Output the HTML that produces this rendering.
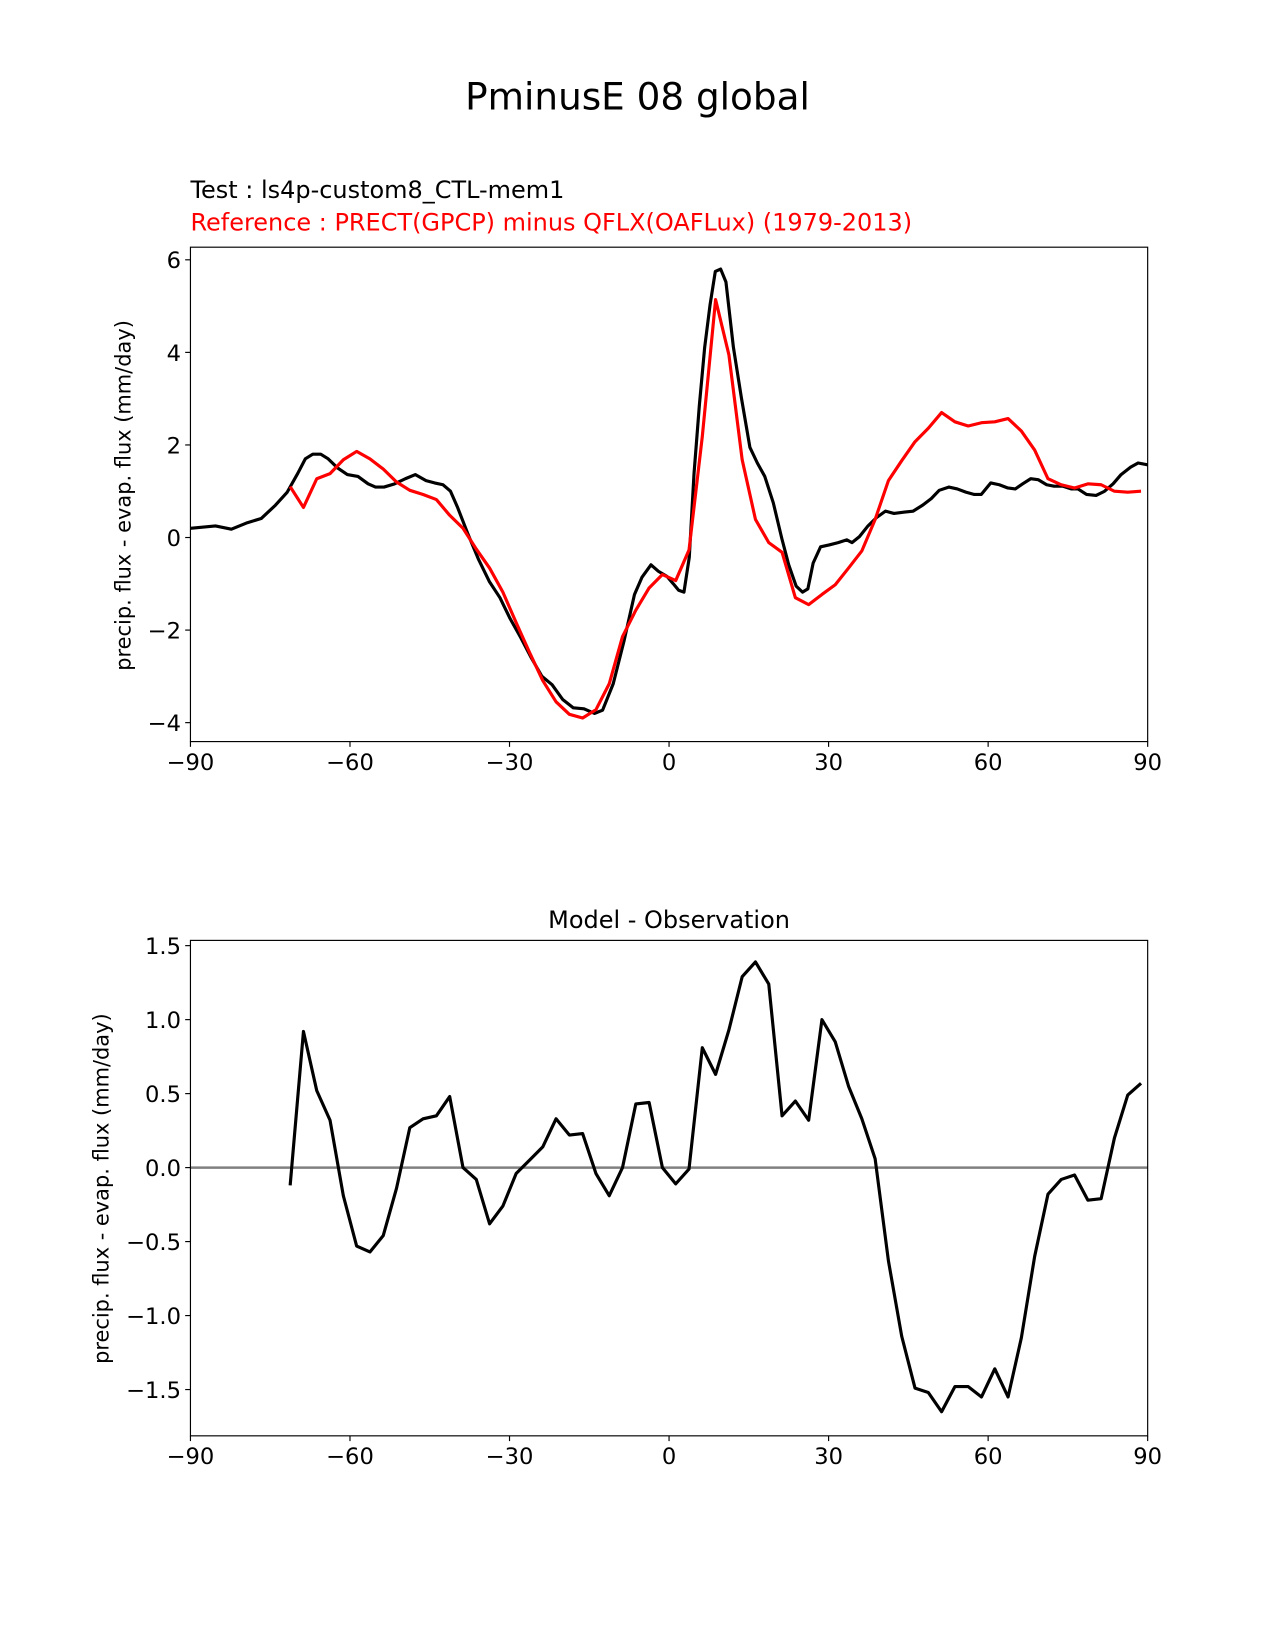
<!DOCTYPE html>
<html><head><meta charset="utf-8"><style>
html,body{margin:0;padding:0;background:#fff;}
svg{display:block;font-family:"DejaVu Sans","Liberation Sans",sans-serif;}
</style></head><body>
<svg id="fig" width="1275" height="1650" viewBox="0 0 1212 1568.6" xmlns="http://www.w3.org/2000/svg">
<rect width="1212" height="1568.6" fill="#fff"/>
<text x="606" y="104" font-size="35.5" text-anchor="middle">PminusE 08 global</text>
<text x="181" y="188" font-size="22.8">Test : ls4p-custom8_CTL-mem1</text>
<text x="181" y="219" font-size="22.8" fill="red">Reference : PRECT(GPCP) minus QFLX(OAFLux) (1979-2013)</text>
<text x="636" y="882" font-size="22.8" text-anchor="middle">Model - Observation</text>
<text transform="translate(124,471) rotate(-90)" font-size="19.9" text-anchor="middle">precip. flux - evap. flux (mm/day)</text>
<text transform="translate(103,1130) rotate(-90)" font-size="19.9" text-anchor="middle">precip. flux - evap. flux (mm/day)</text>
<g id="top"></g>
<g id="bot"></g>
</svg>
<script>
const testLat=[-90,-85.3,-82.3,-79.3,-76.7,-74,-71.8,-69.8,-68.4,-67,-65.5,-64.1,-62.3,-60.5,-58.5,-56.6,-55.2,-53.6,-51.6,-49.6,-47.7,-45.7,-44.1,-42.5,-41.1,-39.8,-37.8,-35.8,-33.8,-31.8,-29.9,-27.9,-25.9,-23.9,-22,-20,-18,-16,-14,-12.5,-10.5,-8.5,-6.5,-5.1,-3.4,-2,-0.4,0.8,1.8,2.8,3.8,4.7,5.7,6.7,7.7,8.7,9.7,10.7,12.1,13.6,15.2,16.6,18,19.6,21.2,22.5,23.9,25.1,26.1,27.1,28.5,30.1,31.8,33.4,34.4,35.8,37.4,39,40.7,42.3,44.3,45.9,47.7,49.3,50.8,52.6,54.2,55.8,57.4,58.7,60.5,62.1,63.7,65.1,66.5,68,69.4,71,72.4,74,75.6,76.9,78.5,80.3,81.9,83.5,85,86.8,88.2,90];
const testVal=[0.2,0.25,0.18,0.32,0.41,0.7,0.98,1.39,1.7,1.8,1.8,1.7,1.5,1.36,1.32,1.16,1.09,1.09,1.16,1.27,1.36,1.23,1.18,1.14,1.0,0.66,0.07,-0.48,-0.95,-1.3,-1.75,-2.16,-2.6,-3.0,-3.18,-3.5,-3.68,-3.7,-3.8,-3.73,-3.16,-2.25,-1.23,-0.86,-0.59,-0.73,-0.84,-1.0,-1.14,-1.18,-0.43,1.39,2.86,4.11,5.02,5.75,5.8,5.52,4.11,3.02,1.95,1.61,1.32,0.75,-0.02,-0.59,-1.05,-1.18,-1.11,-0.55,-0.2,-0.16,-0.11,-0.05,-0.11,0.02,0.25,0.43,0.57,0.52,0.55,0.57,0.7,0.84,1.02,1.09,1.05,0.98,0.93,0.93,1.18,1.14,1.07,1.05,1.16,1.27,1.25,1.14,1.11,1.11,1.05,1.05,0.93,0.91,1.0,1.16,1.36,1.52,1.61,1.57];
const refLat=[-71.25,-68.75,-66.25,-63.75,-61.25,-58.75,-56.25,-53.75,-51.25,-48.75,-46.25,-43.75,-41.25,-38.75,-36.25,-33.75,-31.25,-28.75,-26.25,-23.75,-21.25,-18.75,-16.25,-13.75,-11.25,-8.75,-6.25,-3.75,-1.25,1.25,3.75,6.25,8.75,11.25,13.75,16.25,18.75,21.25,23.75,26.25,28.75,31.25,33.75,36.25,38.75,41.25,43.75,46.25,48.75,51.25,53.75,56.25,58.75,61.25,63.75,66.25,68.75,71.25,73.75,76.25,78.75,81.25,83.75,86.25,88.75];
const refVal=[1.1,0.65,1.27,1.38,1.68,1.86,1.7,1.48,1.2,1.02,0.93,0.82,0.48,0.2,-0.25,-0.66,-1.18,-1.84,-2.48,-3.09,-3.55,-3.82,-3.9,-3.72,-3.16,-2.14,-1.57,-1.09,-0.8,-0.93,-0.27,2.18,5.14,3.95,1.68,0.39,-0.11,-0.32,-1.3,-1.45,-1.23,-1.02,-0.66,-0.29,0.39,1.23,1.66,2.07,2.36,2.7,2.5,2.41,2.48,2.5,2.57,2.3,1.89,1.27,1.14,1.07,1.16,1.14,1.0,0.98,1.0];
const diffVal=[-0.12,0.92,0.52,0.32,-0.19,-0.53,-0.57,-0.46,-0.14,0.27,0.33,0.35,0.48,0.0,-0.08,-0.38,-0.26,-0.04,0.05,0.14,0.33,0.22,0.23,-0.04,-0.19,0.0,0.43,0.44,0.0,-0.11,-0.01,0.81,0.63,0.93,1.29,1.39,1.24,0.35,0.45,0.32,1.0,0.85,0.55,0.33,0.06,-0.63,-1.14,-1.49,-1.52,-1.65,-1.48,-1.48,-1.55,-1.36,-1.55,-1.15,-0.6,-0.18,-0.08,-0.05,-0.22,-0.21,0.2,0.49,0.57];
const xTicks=[-90,-60,-30,0,30,60,90];
const topYTicks=[6,4,2,0,-2,-4];
const botYTicks=[1.5,1.0,0.5,0.0,-0.5,-1.0,-1.5];

const NS="http://www.w3.org/2000/svg";
function mk(tag,attrs,parent){const e=document.createElementNS(NS,tag);for(const k in attrs)e.setAttribute(k,attrs[k]);parent.appendChild(e);return e;}
const X0=181,X1=1091;
function sx(v){return X0+(v+90)/180*(X1-X0);}
function fmt(v,d){return (v<0?"\u2212":"")+Math.abs(v).toFixed(d);}

function axes(g,top,bottom,sy,yTicks,dec,prefix){
  for(const t of xTicks){
    const tk=mk('line',{x1:sx(t),x2:sx(t),y1:bottom,y2:bottom+5,stroke:'#000','stroke-width':1.1},g);
    
    
    const tl=mk('text',{x:sx(t),y:bottom+27,'font-size':21.5,'text-anchor':'middle'},g);
    tl.textContent=fmt(t,0);
    
    
  }
  for(const t of yTicks){
    const tk=mk('line',{x1:X0-5,x2:X0,y1:sy(t),y2:sy(t),stroke:'#000','stroke-width':1.1},g);
    
    
    const tl=mk('text',{x:X0-9,y:sy(t)+8,'font-size':21.5,'text-anchor':'end'},g);
    tl.textContent=fmt(t,dec);
    
    
  }
}
function line(g,lat,val,sy,color,w,name){
  const p=mk('polyline',{points:lat.map((x,i)=>sx(x).toFixed(2)+','+sy(val[i]).toFixed(2)).join(' '),fill:'none',stroke:color,'stroke-width':w,'stroke-linejoin':'round'},g);
  
  
}

const gt=document.getElementById('top');
const T0=235,T1=705;
function syT(v){return 511-v*44;}
axes(gt,T0,T1,syT,topYTicks,0,'top');
line(gt,testLat,testVal,syT,'#000',3,'test-series-line');
line(gt,refLat,refVal,syT,'#f00',3,'reference-series-line');
const fr=mk('rect',{x:X0,y:T0,width:X1-X0,height:T1-T0,fill:'none',stroke:'#000','stroke-width':1.1},gt);



const gb=document.getElementById('bot');
const B0=894,B1=1365;
function syB(v){return 1110-v*140.67;}
axes(gb,B0,B1,syB,botYTicks,1,'bottom');
const zl=mk('line',{x1:X0,x2:X1,y1:syB(0),y2:syB(0),stroke:'#808080','stroke-width':2.4},gb);


line(gb,refLat,diffVal,syB,'#000',3,'difference-series-line');
const fb=mk('rect',{x:X0,y:B0,width:X1-X0,height:B1-B0,fill:'none',stroke:'#000','stroke-width':1.1},gb);


</script>
</body></html>
